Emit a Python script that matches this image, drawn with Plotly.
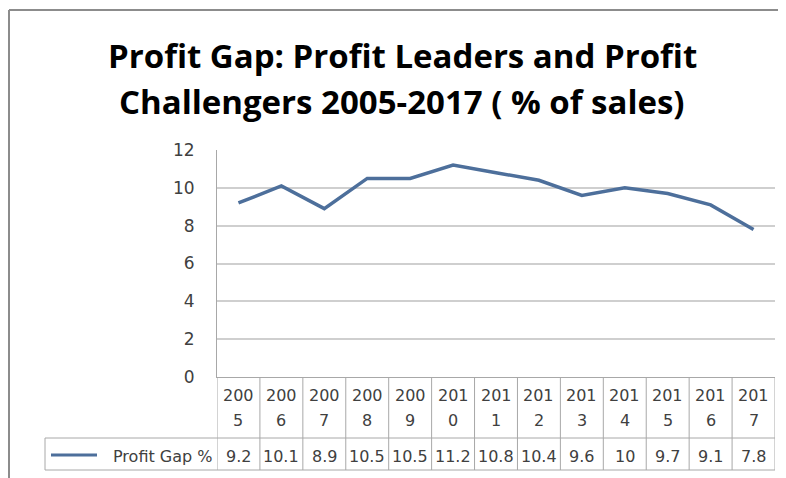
import plotly.graph_objects as go

years = ["2005", "2006", "2007", "2008", "2009", "2010", "2011",
         "2012", "2013", "2014", "2015", "2016", "2017"]
profit_gap = [9.2, 10.1, 8.9, 10.5, 10.5, 11.2, 10.8, 10.4, 9.6, 10, 9.7, 9.1, 7.8]
series_name = "Profit Gap %"
y_ticks = [0, 2, 4, 6, 8, 10, 12]
title_lines = ["Profit Gap: Profit Leaders and Profit",
               "Challengers 2005-2017 ( % of sales)"]

WIN_W, WIN_H = 786, 478
OFF = 8  # page body margin
W, H = WIN_W - OFF, WIN_H - OFF
PL, PR, PT, PB = 217, 775, 150, 377  # plot area in window pixels
LINE_COLOR = "#4d6f9b"
TXT = "#404040"
GRID = "#cfcfcf"
BORDER = "#a8a8a8"
FONT = "DejaVu Sans, sans-serif"
TFONT = "Open Sans, sans-serif"


def px_x(p):
    return (p - PL) / (PR - PL)


def px_y(p):
    return (PB - p) / (PB - PT)


n = len(years)
xs = list(range(n))

fig = go.Figure()
fig.add_trace(go.Scatter(
    x=xs, y=profit_gap, mode="lines",
    line=dict(color=LINE_COLOR, width=3.5),
    showlegend=False, hoverinfo="skip"))

shapes = []
annotations = []

# chart border (top & left)
shapes.append(dict(type="line", xref="paper", yref="paper",
                   x0=px_x(9), x1=px_x(WIN_W + 5), y0=px_y(10), y1=px_y(10),
                   line=dict(color="#8c8c8c", width=2)))
shapes.append(dict(type="line", xref="paper", yref="paper",
                   x0=px_x(9), x1=px_x(9), y0=px_y(10), y1=px_y(WIN_H + 5),
                   line=dict(color="#8c8c8c", width=2)))

# data table grid
row1_bot = px_y(438)
row2_bot = px_y(470)
for i in range(n + 1):
    shapes.append(dict(type="line", xref="x", yref="paper",
                       x0=i - 0.5, x1=i - 0.5, y0=0, y1=row2_bot,
                       line=dict(color=BORDER, width=1)))
for yy in (row1_bot, row2_bot):
    shapes.append(dict(type="line", xref="paper", yref="paper",
                       x0=px_x(45), x1=1, y0=yy, y1=yy,
                       line=dict(color=BORDER, width=1)))
shapes.append(dict(type="line", xref="paper", yref="paper",
                   x0=px_x(45), x1=px_x(45), y0=row1_bot, y1=row2_bot,
                   line=dict(color=BORDER, width=1)))

# header labels (wrapped years) and values
for i, (yr, v) in enumerate(zip(years, profit_gap)):
    annotations.append(dict(x=i, xref="x", y=px_y(395), yref="paper",
                            text=yr[:3], showarrow=False,
                            font=dict(family=FONT, size=16, color=TXT),
                            xanchor="center", yanchor="middle"))
    annotations.append(dict(x=i, xref="x", y=px_y(420), yref="paper",
                            text=yr[3:], showarrow=False,
                            font=dict(family=FONT, size=16, color=TXT),
                            xanchor="center", yanchor="middle"))
    annotations.append(dict(x=i, xref="x", y=px_y(456), yref="paper",
                            text=f"{v:g}", showarrow=False,
                            font=dict(family=FONT, size=16, color=TXT),
                            xanchor="center", yanchor="middle"))

# legend key in table
shapes.append(dict(type="line", xref="paper", yref="paper",
                   x0=px_x(51), x1=px_x(97), y0=px_y(455), y1=px_y(455),
                   line=dict(color=LINE_COLOR, width=3)))
annotations.append(dict(x=px_x(214), xref="paper", y=px_y(456), yref="paper",
                        text=series_name, showarrow=False,
                        font=dict(family=FONT, size=16, color=TXT),
                        xanchor="right", yanchor="middle"))

# title
for k, (line, cy) in enumerate(zip(title_lines, (55, 102))):
    annotations.append(dict(x=px_x(402), xref="paper", y=px_y(cy), yref="paper",
                            text="<b>" + line + "</b>", showarrow=False,
                            font=dict(family=TFONT, size=33, color="#000000"),
                            xanchor="center", yanchor="middle"))

fig.update_layout(
    width=W, height=H,
    margin=dict(l=PL - OFF, r=WIN_W - PR, t=PT - OFF, b=WIN_H - PB),
    paper_bgcolor="white", plot_bgcolor="white",
    xaxis=dict(range=[-0.5, n - 0.5], showticklabels=False, showgrid=False,
               zeroline=False, showline=True, linecolor=BORDER, linewidth=1,
               ticks="", fixedrange=True),
    yaxis=dict(range=[0, 12], tickvals=y_ticks, showgrid=True, gridcolor=GRID,
               gridwidth=1.5, zeroline=False, showline=True, linecolor=BORDER,
               linewidth=1, ticks="", ticklabelstandoff=18,
               tickfont=dict(family=FONT, size=17, color=TXT), fixedrange=True),
    shapes=shapes, annotations=annotations,
    showlegend=False,
)

fig.write_html("out.html")
